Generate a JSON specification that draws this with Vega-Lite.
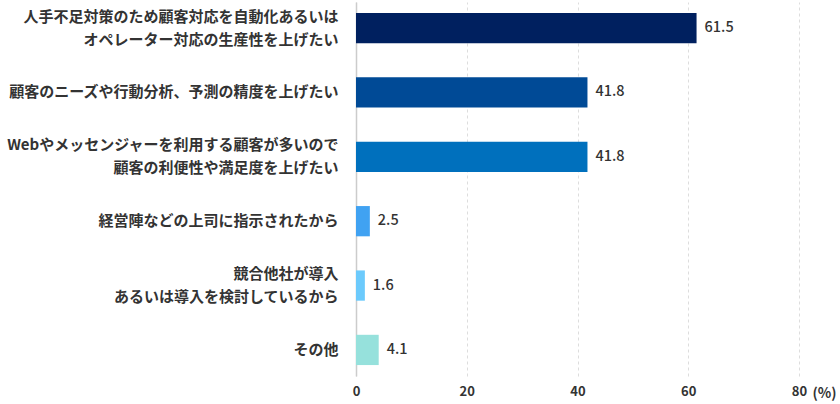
{
  "$schema": "https://vega.github.io/schema/vega-lite/v6.json",
  "width": 443,
  "height": 374,
  "autosize": {"type": "none"},
  "padding": {"left": 356, "top": 2, "right": 41, "bottom": 28},
  "background": "white",
  "config": {"view": {"stroke": null}, "font": "Noto Sans CJK JP"},
  "data": {
    "values": [
      {"item": "人手不足対策のため顧客対応を自動化あるいは\nオペレーター対応の生産性を上げたい", "value": 61.5, "color": "#00205f"},
      {"item": "顧客のニーズや行動分析、予測の精度を上げたい", "value": 41.8, "color": "#004a96"},
      {"item": "Webやメッセンジャーを利用する顧客が多いので\n顧客の利便性や満足度を上げたい", "value": 41.8, "color": "#0070bd"},
      {"item": "経営陣などの上司に指示されたから", "value": 2.5, "color": "#40a2f2"},
      {"item": "競合他社が導入\nあるいは導入を検討しているから", "value": 1.6, "color": "#6ccafc"},
      {"item": "その他", "value": 4.1, "color": "#96e1dc"}
    ]
  },
  "encoding": {
    "y": {
      "field": "item",
      "type": "nominal",
      "sort": null,
      "scale": {"paddingInner": 0.53, "paddingOuter": 0.17},
      "axis": {
        "title": null,
        "labelExpr": "split(datum.label, '\\n')",
        "labelFontSize": 15,
        "labelFontWeight": "bold",
        "labelColor": "#333333",
        "labelLineHeight": 23,
        "labelPadding": 18,
        "labelLimit": 400,
        "labelOffset": {"condition": {"test": "indexof(datum.value, '\\n') >= 0", "value": -11.5}, "value": 0},
        "ticks": false,
        "domain": true,
        "domainColor": "#cccccc",
        "domainWidth": 1.5
      }
    }
  },
  "layer": [
    {
      "mark": {"type": "bar"},
      "encoding": {
        "x": {
          "field": "value",
          "type": "quantitative",
          "scale": {"domain": [0, 80]},
          "axis": {
            "values": [0, 20, 40, 60, 80],
            "title": "(%)",
            "titleX": 468,
            "titleY": 17,
            "titleBaseline": "middle",
            "titleAlign": "center",
            "titleFontSize": 14,
            "titleFontWeight": "bold",
            "titleColor": "#333333",
            "labelFontSize": 13,
            "labelFontWeight": "bold",
            "labelColor": "#333333",
            "labelPadding": 9,
            "ticks": false,
            "domain": false,
            "grid": true,
            "gridDash": [3, 3],
            "gridColor": "#dddddd",
            "labelFlush": false
          }
        },
        "color": {"field": "color", "type": "nominal", "scale": null}
      }
    },
    {
      "mark": {"type": "text", "align": "left", "baseline": "middle", "dx": 8, "fontSize": 14.5, "fontWeight": 500, "color": "#333333"},
      "encoding": {
        "x": {"field": "value", "type": "quantitative"},
        "text": {"field": "value", "type": "quantitative", "format": ".1f"}
      }
    }
  ]
}
